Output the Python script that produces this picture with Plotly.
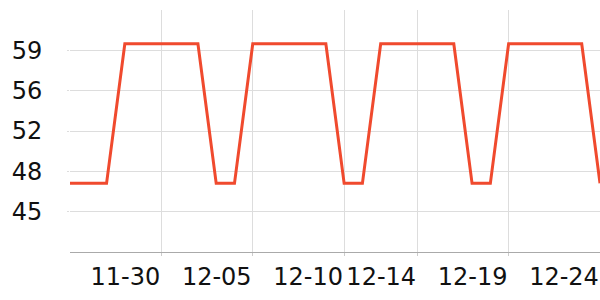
import plotly.graph_objects as go

dates = ["11-25", "11-26", "11-27", "11-28", "11-29", "11-30", "12-01", "12-02", "12-03", "12-04",
         "12-05", "12-06", "12-07", "12-08", "12-09", "12-10", "12-11", "12-12", "12-13", "12-14",
         "12-15", "12-16", "12-17", "12-18", "12-19", "12-20", "12-21", "12-22", "12-23", "12-24"]
values = [47.2, 47.2, 47.2, 60.0, 60.0, 60.0, 60.0, 60.0, 47.2, 47.2,
          60.0, 60.0, 60.0, 60.0, 60.0, 47.2, 47.2, 60.0, 60.0, 60.0,
          60.0, 60.0, 47.2, 47.2, 60.0, 60.0, 60.0, 60.0, 60.0, 47.2]

x_tick_dates = ["11-30", "12-05", "12-10", "12-14", "12-19", "12-24"]
y_tick_vals = [44.6, 48.3, 52.0, 55.7, 59.4]
y_tick_text = ["45", "48", "52", "56", "59"]
y_range = [40.9, 63.1]

fig = go.Figure()
fig.add_trace(go.Scatter(
    x=dates, y=values, mode="lines",
    line=dict(color="#f04a2e", width=3),
    hoverinfo="skip",
))

font = dict(family="DejaVu Sans", size=24, color="#111111")

fig.update_layout(
    width=600, height=300,
    margin=dict(l=70, r=0, t=10, b=48),
    paper_bgcolor="white", plot_bgcolor="white",
    showlegend=False,
    xaxis=dict(
        type="category",
        range=[0, len(dates) - 1],
        tickmode="array",
        tickvals=x_tick_dates,
        ticktext=x_tick_dates,
        showgrid=True, gridcolor="#dddddd", gridwidth=1,
        showline=True, linecolor="#aaaaaa", linewidth=1,
        ticks="outside", ticklen=3, tickcolor="#cccccc",
        tickfont=font,
        ticklabelshift=-36,
        zeroline=False,
    ),
    yaxis=dict(
        range=y_range,
        tickmode="array",
        tickvals=y_tick_vals,
        ticktext=y_tick_text,
        showgrid=True, gridcolor="#dddddd", gridwidth=1,
        showline=False,
        ticks="outside", ticklen=2, tickcolor="#dddddd",
        tickfont=font,
        zeroline=False,
        ticklabelstandoff=20,
    ),
)

fig.write_html("out.html")
